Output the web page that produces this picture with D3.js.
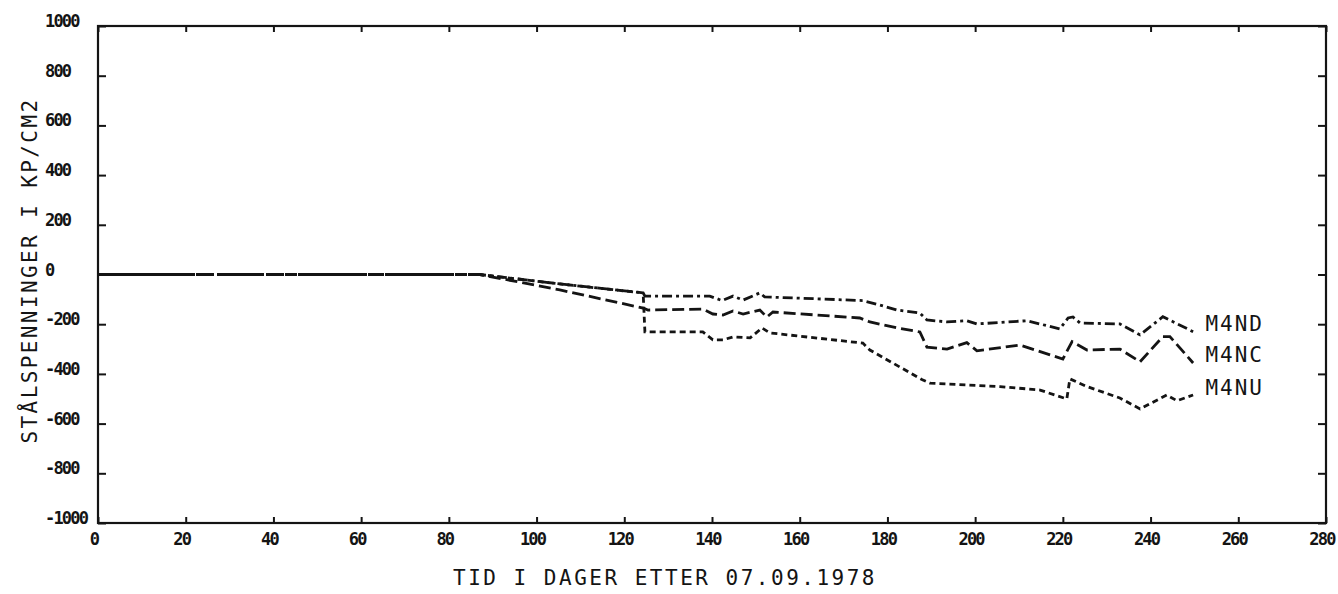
<!DOCTYPE html>
<html>
<head>
<meta charset="utf-8">
<script src="https://cdn.jsdelivr.net/npm/d3@7"></script>
<style>
    html, body { margin: 0; padding: 0; background: #fff; }
    svg { display: block; }
</style>
</head>
<body>
<svg id="chart"></svg>
<script>
// tick values
const xTicks = [0, 20, 40, 60, 80, 100, 120, 140, 160, 180, 200, 220, 240, 260, 280];
const yTicks = [1000, 800, 600, 400, 200, 0, -200, -400, -600, -800, -1000];

// M4ND (dash-dot)
const ndDays = [0, 87, 105.3, 124.3, 124.7, 139.5, 142.3, 144.8, 147.1, 150.9, 152, 174.4, 178.3, 182.2, 187.4, 189, 193.6, 198.1, 200.4, 211.8, 219.3, 221.2, 222.3, 223.9, 233, 237.6, 242.8, 249.7];
const ndValues = [0, 0, -38, -74, -87, -87, -105, -87, -103, -74, -90, -105, -123, -143, -155, -183, -191, -186, -199, -186, -219, -175, -171, -195, -199, -243, -170, -230];

// M4NC (long dash)
const ncDays = [0, 87, 105.3, 124.3, 125.4, 137.9, 140.2, 142.5, 144.8, 147.1, 150.9, 152.5, 153.9, 173.7, 176, 182.2, 187.4, 189, 193.6, 198.1, 200.4, 210.2, 220, 222.1, 225.5, 233, 237.6, 242.8, 244.4, 249.7];
const ncValues = [0, 0, -62, -135, -143, -139, -159, -163, -147, -159, -143, -171, -151, -175, -191, -215, -231, -292, -300, -274, -307, -284, -340, -270, -304, -300, -351, -250, -250, -356];

// M4NU (short dash)
const nuDays = [0, 87, 105.3, 124.3, 124.7, 137.9, 140.2, 142.5, 144.8, 148.7, 151.4, 153.2, 174.4, 176, 188.1, 189.7, 205.7, 214.8, 220.9, 221.6, 225.5, 233, 237.6, 243.7, 246, 249.7];
const nuValues = [0, 0, -38, -74, -231, -231, -263, -263, -251, -255, -215, -235, -276, -304, -425, -437, -451, -465, -501, -420, -451, -497, -541, -485, -508, -485];

const seriesNames = ["M4ND", "M4NC", "M4NU"];

function toPoints(days, values) {
    return days.map((d, i) => ({ day: d, value: values[i] }));
}

function drawChart() {
    const width = 1338;
    const height = 594;
    const margin = { top: 26, right: 12, bottom: 71, left: 98 };
    const innerW = width - margin.left - margin.right;
    const innerH = height - margin.top - margin.bottom;

    const svg = d3.select("#chart")
        .attr("width", width)
        .attr("height", height)
        .style("background", "#fff");

    const g = svg.append("g")
        .attr("transform", `translate(${margin.left},${margin.top})`);

    const xScale = d3.scaleLinear().domain([0, 280]).range([0, innerW]);
    const yScale = d3.scaleLinear().domain([-1000, 1000]).range([innerH, 0]);

    const ink = "#141414";

    //inward tick marks on all four sides
    const tickAxes = [
        { axis: d3.axisBottom(xScale).tickValues(xTicks).tickSizeInner(-6), t: `translate(0,${innerH})` },
        { axis: d3.axisTop(xScale).tickValues(xTicks).tickSizeInner(-6), t: "translate(0,0)" },
        { axis: d3.axisLeft(yScale).tickValues(yTicks).tickSizeInner(-8), t: "translate(0,0)" },
        { axis: d3.axisRight(yScale).tickValues(yTicks).tickSizeInner(-8), t: `translate(${innerW},0)` }
    ];
    tickAxes.forEach(a => {
        const grp = g.append("g").attr("transform", a.t);
        a.axis.tickSizeOuter(0).tickFormat("")(grp);
        grp.select(".domain").remove();
        grp.selectAll("line").style("stroke", ink).style("stroke-width", 2);
    });

    // frame
    g.append("rect")
        .attr("x", 0)
        .attr("y", 0)
        .attr("width", innerW)
        .attr("height", innerH)
        .style("fill", "none")
        .style("stroke", ink)
        .style("stroke-width", 2.2);

    // tick labels
    const tickFont = "'DejaVu Sans Mono', monospace";
    g.selectAll("text.xlab")
        .data(xTicks)
        .enter()
        .append("text")
        .attr("class", "xlab")
        .attr("x", d => xScale(d) - 4)
        .attr("y", innerH + 22)
        .attr("text-anchor", "middle")
        .style("font-family", tickFont)
        .style("font-size", "17px")
        .style("font-weight", "bold")
        .style("letter-spacing", "-1.8px")
        .style("fill", ink)
        .text(d => d);

    g.selectAll("text.ylab")
        .data(yTicks)
        .enter()
        .append("text")
        .attr("class", "ylab")
        .attr("x", -53)
        .attr("y", d => yScale(d) + 1)
        .attr("text-anchor", "start")
        .style("font-family", tickFont)
        .style("font-size", "17px")
        .style("font-weight", "bold")
        .style("letter-spacing", "-1.8px")
        .style("fill", ink)
        .text(d => d);

    // axis titles
    const titleFont = "'DejaVu Sans Mono', monospace";
    g.append("text")
        .attr("x", 355)
        .attr("y", innerH + 62)
        .style("font-family", titleFont)
        .style("font-size", "21px")
        .style("letter-spacing", "2.5px")
        .style("fill", ink)
        .text("TID I DAGER ETTER 07.09.1978");

    g.append("text")
        .attr("transform", `translate(-61,${innerH / 2 - 4}) rotate(-90)`)
        .attr("text-anchor", "middle")
        .style("font-family", titleFont)
        .style("font-size", "21px")
        .style("letter-spacing", "2.4px")
        .style("fill", ink)
        .text("STÅLSPENNINGER I KP/CM2");

    //lines
    const line = d3.line()
        .x(d => xScale(d.day))
        .y(d => yScale(d.value));

    const series = [
        { name: seriesNames[0], pts: toPoints(ndDays, ndValues), dash: "10,4,3,4" },
        { name: seriesNames[1], pts: toPoints(ncDays, ncValues), dash: "12,5" },
        { name: seriesNames[2], pts: toPoints(nuDays, nuValues), dash: "6,4" }
    ];

    g.selectAll("path.series")
        .data(series)
        .enter()
        .append("path")
        .attr("class", "series")
        .attr("d", d => line(d.pts))
        .style("fill", "none")
        .style("stroke", ink)
        .style("stroke-width", 2.8)
        .style("stroke-dasharray", d => d.dash);

    // series labels
    const labelY = [-200, -325, -455];
    g.selectAll("text.series-label")
        .data(series)
        .enter()
        .append("text")
        .attr("class", "series-label")
        .attr("x", xScale(252.5))
        .attr("y", (d, i) => yScale(labelY[i]) + 7)
        .style("font-family", titleFont)
        .style("font-size", "21px")
        .style("letter-spacing", "2px")
        .style("fill", ink)
        .text(d => d.name);
}

drawChart();
</script>
</body>
</html>
